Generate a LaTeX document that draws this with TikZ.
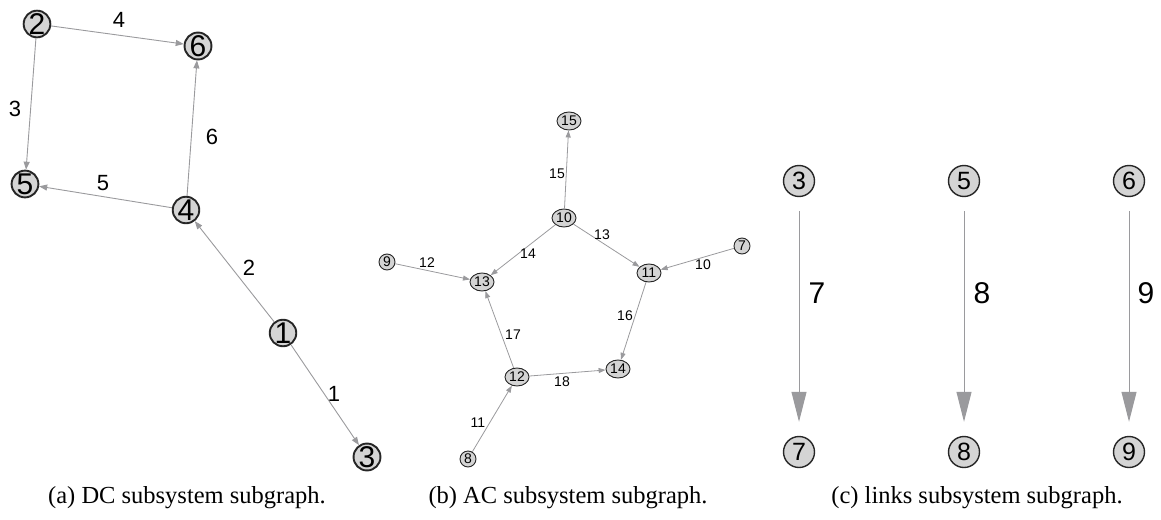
\documentclass[tikz,border=0pt]{standalone}
\usepackage{fontspec}
\setmainfont{Liberation Sans}
\newfontfamily\capfont{Liberation Serif}
\usepackage{xcolor}
\definecolor{nodegray}{HTML}{D4D4D4}
\definecolor{edgegray}{HTML}{9A9A9D}
\usetikzlibrary{arrows.meta, shapes.geometric}

\begin{document}
\begin{tikzpicture}[x=1pt, y=-1pt,
    dcnode/.style={circle, draw=black!85, fill=nodegray, line width=1.9pt,
      inner sep=0pt, minimum size=26pt, font=\fontsize{30}{30}\selectfont},
    acnode/.style={ellipse, draw=black!85, fill=nodegray, line width=0.9pt,
      inner sep=0pt, minimum width=24pt, minimum height=18pt,
      font=\fontsize{14}{14}\selectfont},
    acsmall/.style={acnode, minimum width=16pt, minimum height=16pt},
    lknode/.style={circle, draw=black!85, fill=nodegray, line width=1.4pt,
      inner sep=0pt, minimum size=31pt, font=\fontsize{25}{25}\selectfont},
    dcedge/.style={draw=edgegray, line width=0.9pt,
      -{Triangle[length=8pt, width=6pt]}},
    acedge/.style={draw=edgegray, line width=0.8pt,
      -{Triangle[length=7pt, width=5pt]}},
    lkedge/.style={draw=edgegray, line width=1pt, shorten <=14pt, shorten >=14pt,
      -{Triangle[length=30pt, width=15pt]}},
    dclabel/.style={font=\fontsize{22}{22}\selectfont},
    aclabel/.style={font=\fontsize{14}{14}\selectfont},
    lklabel/.style={font=\fontsize{30}{30}\selectfont},
    captext/.style={font=\capfont\fontsize{24.5}{26}\selectfont}]
  \useasboundingbox (0,0) rectangle (1161,519);

  % (a) DC subsystem
  \node[dcnode] (d1) at (283,333) {1};
  \node[dcnode] (d2) at (37,24) {2};
  \node[dcnode] (d3) at (367,457) {3};
  \node[dcnode] (d4) at (186,210) {4};
  \node[dcnode] (d5) at (25,184) {5};
  \node[dcnode] (d6) at (198,46) {6};
  \draw[dcedge] (d1) -- (d3);
  \draw[dcedge] (d1) -- (d4);
  \draw[dcedge] (d2) -- (d5);
  \draw[dcedge] (d2) -- (d6);
  \draw[dcedge] (d4) -- (d5);
  \draw[dcedge] (d4) -- (d6);
  \node[dclabel] (e1) at (334,394) {1};
  \node[dclabel] (e2) at (249,268) {2};
  \node[dclabel] (e3) at (15,109) {3};
  \node[dclabel] (e4) at (119,20) {4};
  \node[dclabel] (e5) at (103,183) {5};
  \node[dclabel] (e6) at (212,137) {6};

  % (b) AC subsystem
  \node[acsmall] (a7) at (742,246) {7};
  \node[acsmall] (a8) at (468,459) {8};
  \node[acsmall] (a9) at (387,262) {9};
  \node[acnode] (a10) at (564,218) {10};
  \node[acnode] (a11) at (649,273) {11};
  \node[acnode] (a12) at (517,377) {12};
  \node[acnode] (a13) at (482,282) {13};
  \node[acnode] (a14) at (618,369) {14};
  \node[acnode] (a15) at (569,121) {15};
  \draw[acedge] (a7) -- (a11);
  \draw[acedge] (a8) -- (a12);
  \draw[acedge] (a9) -- (a13);
  \draw[acedge] (a10) -- (a11);
  \draw[acedge] (a10) -- (a13);
  \draw[acedge] (a10) -- (a15);
  \draw[acedge] (a11) -- (a14);
  \draw[acedge] (a12) -- (a13);
  \draw[acedge] (a12) -- (a14);
  \node[aclabel] (e10) at (703,265) {10};
  \node[aclabel] (e11) at (478,423) {11};
  \node[aclabel] (e12) at (427,263) {12};
  \node[aclabel] (e13) at (602,235) {13};
  \node[aclabel] (e14) at (528,254) {14};
  \node[aclabel] (e15) at (557,174) {15};
  \node[aclabel] (e16) at (625,316) {16};
  \node[aclabel] (e17) at (513,335) {17};
  \node[aclabel] (e18) at (562,382) {18};

  % (c) links subsystem
  \node[lknode] (l3) at (799,181) {3};
  \node[lknode] (l5) at (964,181) {5};
  \node[lknode] (l6) at (1129,181) {6};
  \node[lknode] (l7) at (799,452) {7};
  \node[lknode] (l8) at (964,452) {8};
  \node[lknode] (l9) at (1129,452) {9};
  \draw[lkedge] (l3) -- (l7);
  \draw[lkedge] (l5) -- (l8);
  \draw[lkedge] (l6) -- (l9);
  \node[lklabel] (e7) at (817,293) {7};
  \node[lklabel] (e8) at (982,293) {8};
  \node[lklabel] (e9) at (1146,293) {9};

  % Captions
  \node[captext] (capa) at (187,498) {(a) DC subsystem subgraph.};
  \node[captext] (capb) at (568,498) {(b) AC subsystem subgraph.};
  \node[captext] (capc) at (977,498) {(c) links subsystem subgraph.};
\end{tikzpicture}
\end{document}
